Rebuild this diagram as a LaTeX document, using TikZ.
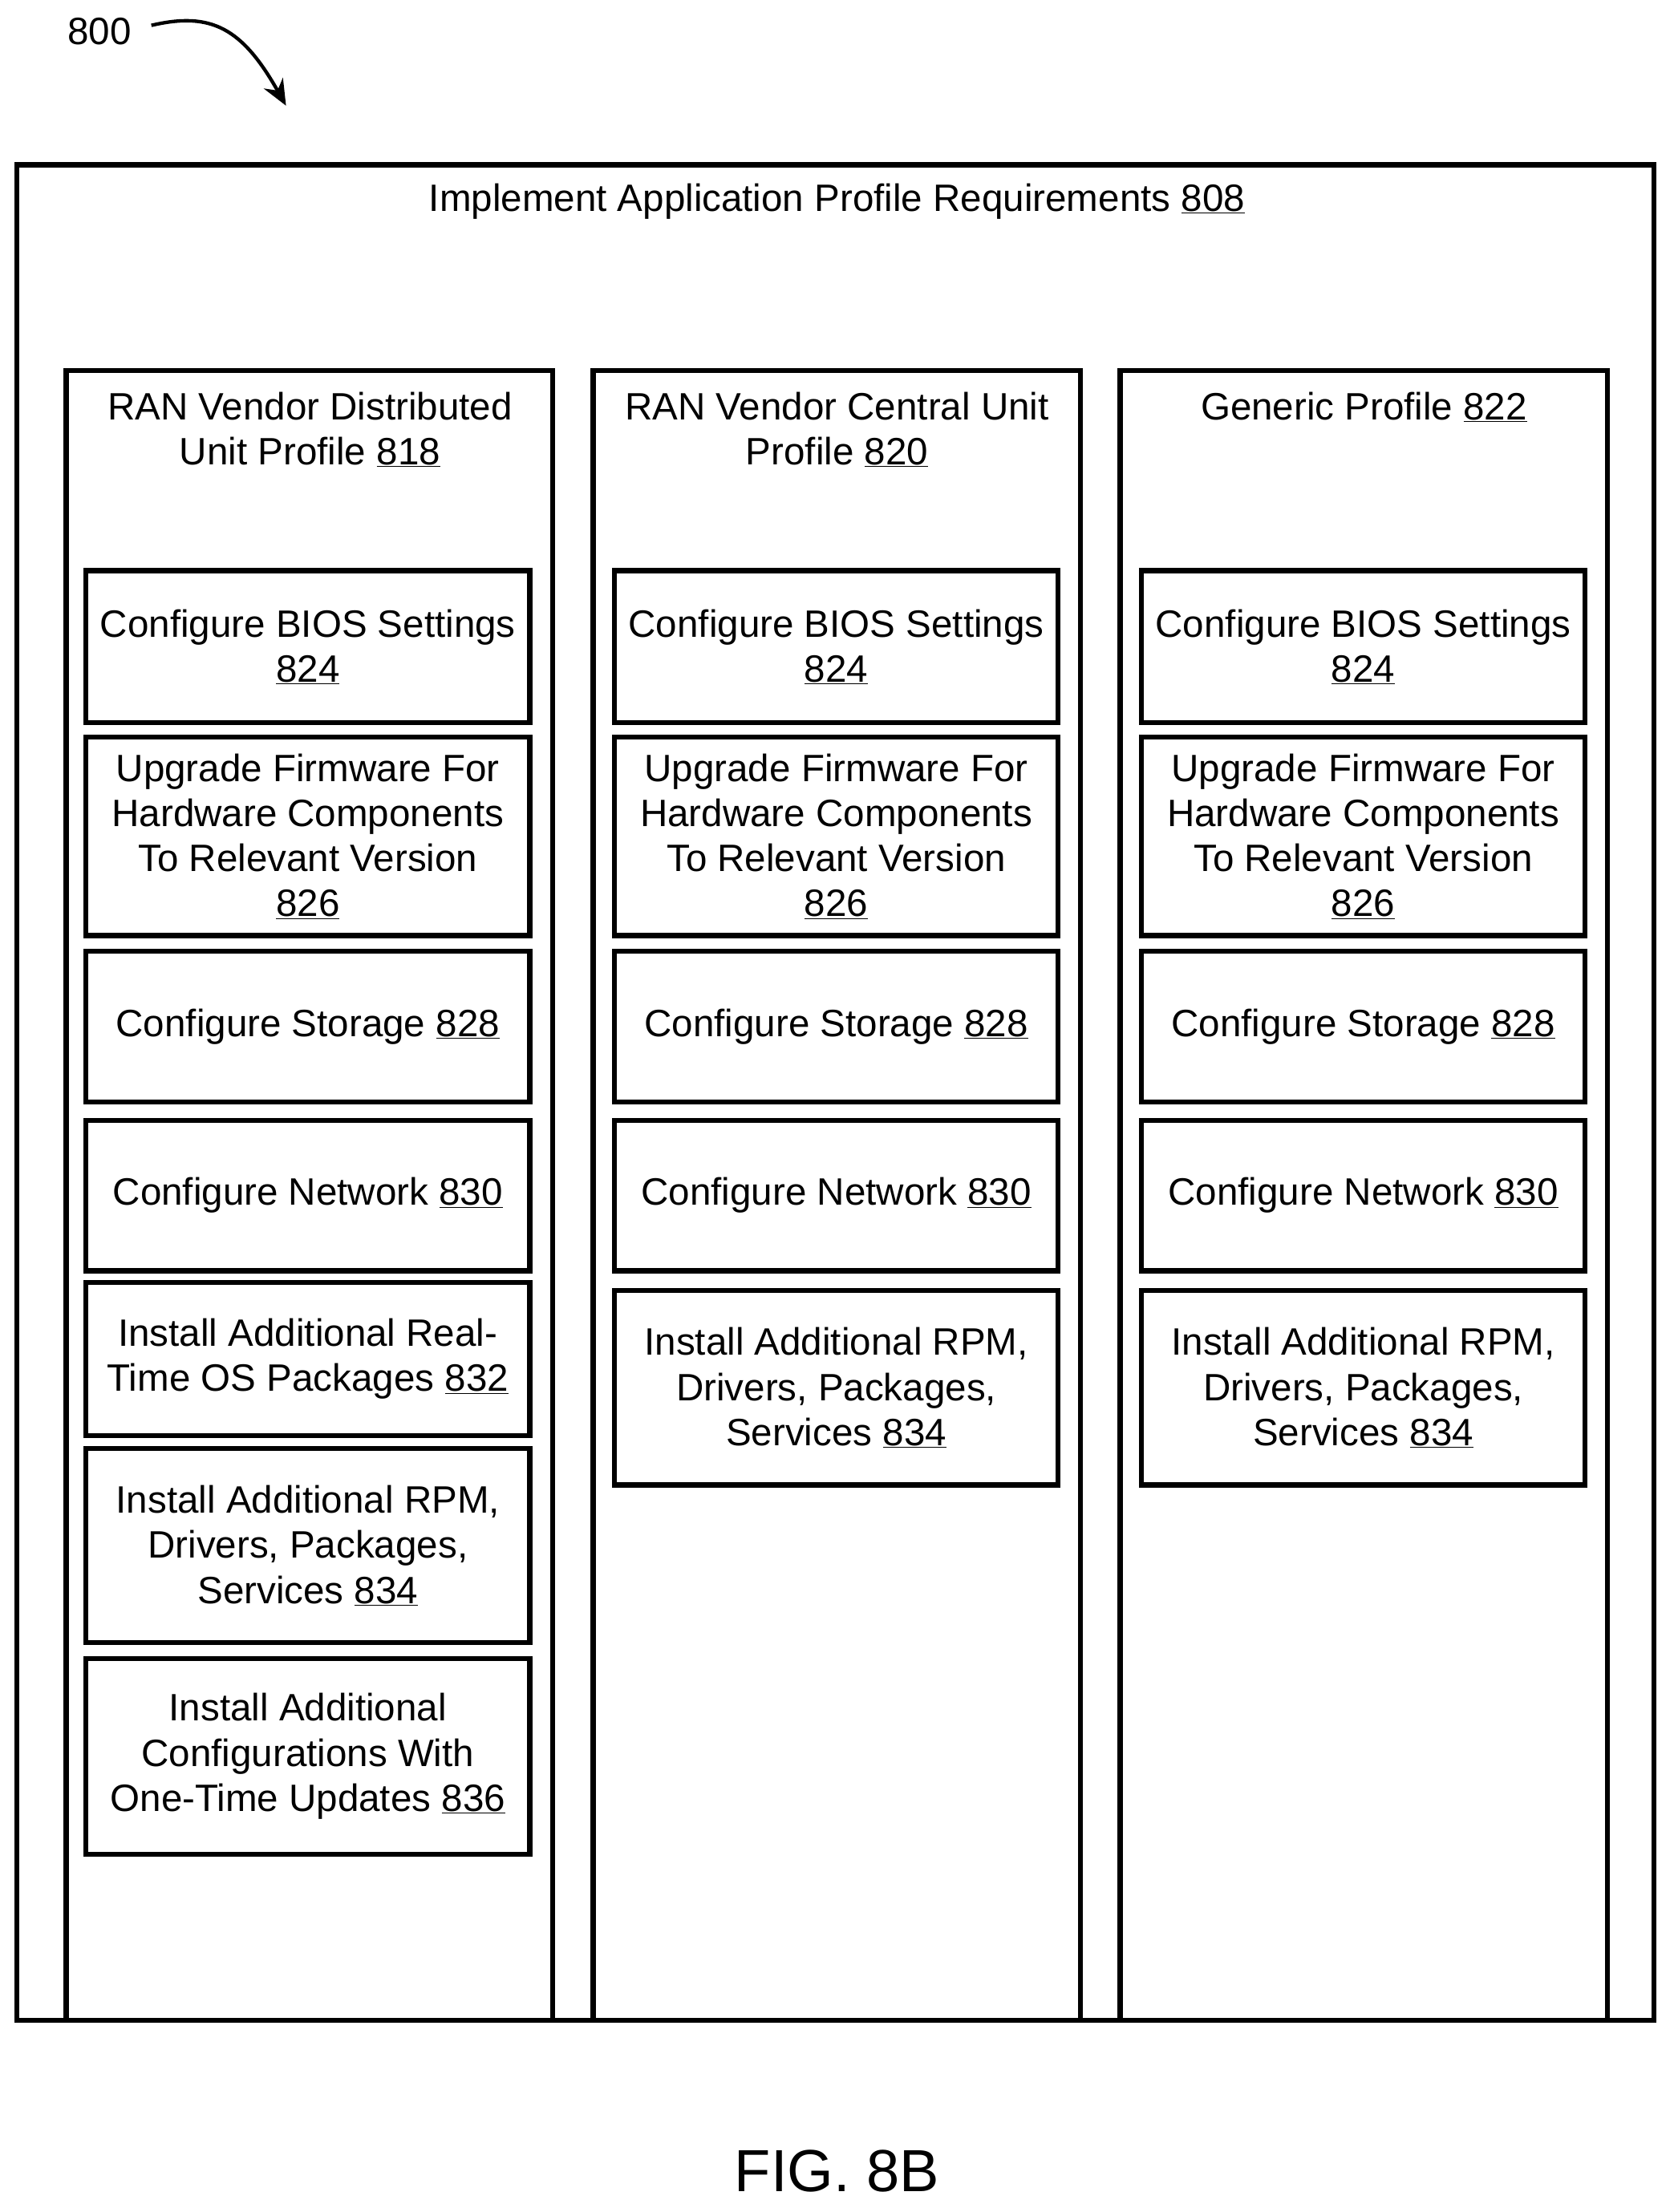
\documentclass[tikz,border=0pt]{standalone}
\usepackage{fontspec}
\setmainfont{Liberation Sans}
\usetikzlibrary{fit,arrows.meta}
\newcommand{\refn}[1]{\underline{#1}}
\begin{document}
\begin{tikzpicture}[x=0.05cm,y=-0.05cm,
  box/.style={draw,line width=5pt,inner sep=0pt},
  txt/.style={align=center,font=\fontsize{38.5}{45.5}\selectfont,inner sep=0pt}]
\useasboundingbox (0,0) rectangle (1188,1570);
\newcommand{\bx}[6]{\node[box,fit={(#2,#3)(#4,#5)}] (#1) {}; \node[txt] at (#1.center) {#6};}
\node[txt,anchor=west] (l800) at (48,22) {800};
\coordinate (a800) at (203,75);
\draw[line width=3.5pt,-{Stealth[length=26pt,width=22pt]}] (l800.east) ++(14,-4) .. controls (150,8) and (172,20) .. (a800);
\node[box,fit={(12,117)(1174,1434)}] (outer) {};
\node[txt] at (594,143) {Implement Application Profile Requirements \refn{808}};
\node[box,fit={(47,263)(392,1434)}] (c1) {};
\node[box,fit={(421,263)(767,1434)}] (c2) {};
\node[box,fit={(795,263)(1141,1434)}] (c3) {};
\node[txt,anchor=north] at (220,278) {RAN Vendor Distributed\\Unit Profile \refn{818}};
\node[txt,anchor=north] at (594,278) {RAN Vendor Central Unit\\Profile \refn{820}};
\node[txt,anchor=north] at (968,278) {Generic Profile \refn{822}};
\foreach \c/\xa/\xb in {a/61/376,b/436/751,c/810/1125}{
  \bx{bios\c}{\xa}{405}{\xb}{513}{Configure BIOS Settings\\\refn{824}}
  \bx{fw\c}{\xa}{523}{\xb}{664}{Upgrade Firmware For\\Hardware Components\\To Relevant Version\\\refn{826}}
  \bx{st\c}{\xa}{675}{\xb}{782}{Configure Storage \refn{828}}
  \bx{nw\c}{\xa}{795}{\xb}{902}{Configure Network \refn{830}}
}
\bx{rt}{61}{910}{376}{1019}{Install Additional Real-\\Time OS Packages \refn{832}}
\bx{rpma}{61}{1028}{376}{1166}{Install Additional RPM,\\Drivers, Packages,\\Services \refn{834}}
\bx{ot}{61}{1177}{376}{1316}{Install Additional\\Configurations With\\One-Time Updates \refn{836}}
\bx{rpmb}{436}{916}{751}{1054}{Install Additional RPM,\\Drivers, Packages,\\Services \refn{834}}
\bx{rpmc}{810}{916}{1125}{1054}{Install Additional RPM,\\Drivers, Packages,\\Services \refn{834}}
\node[txt,font=\fontsize{60}{66}\selectfont] (fig) at (594,1541) {FIG. 8B};
\end{tikzpicture}
\end{document}
